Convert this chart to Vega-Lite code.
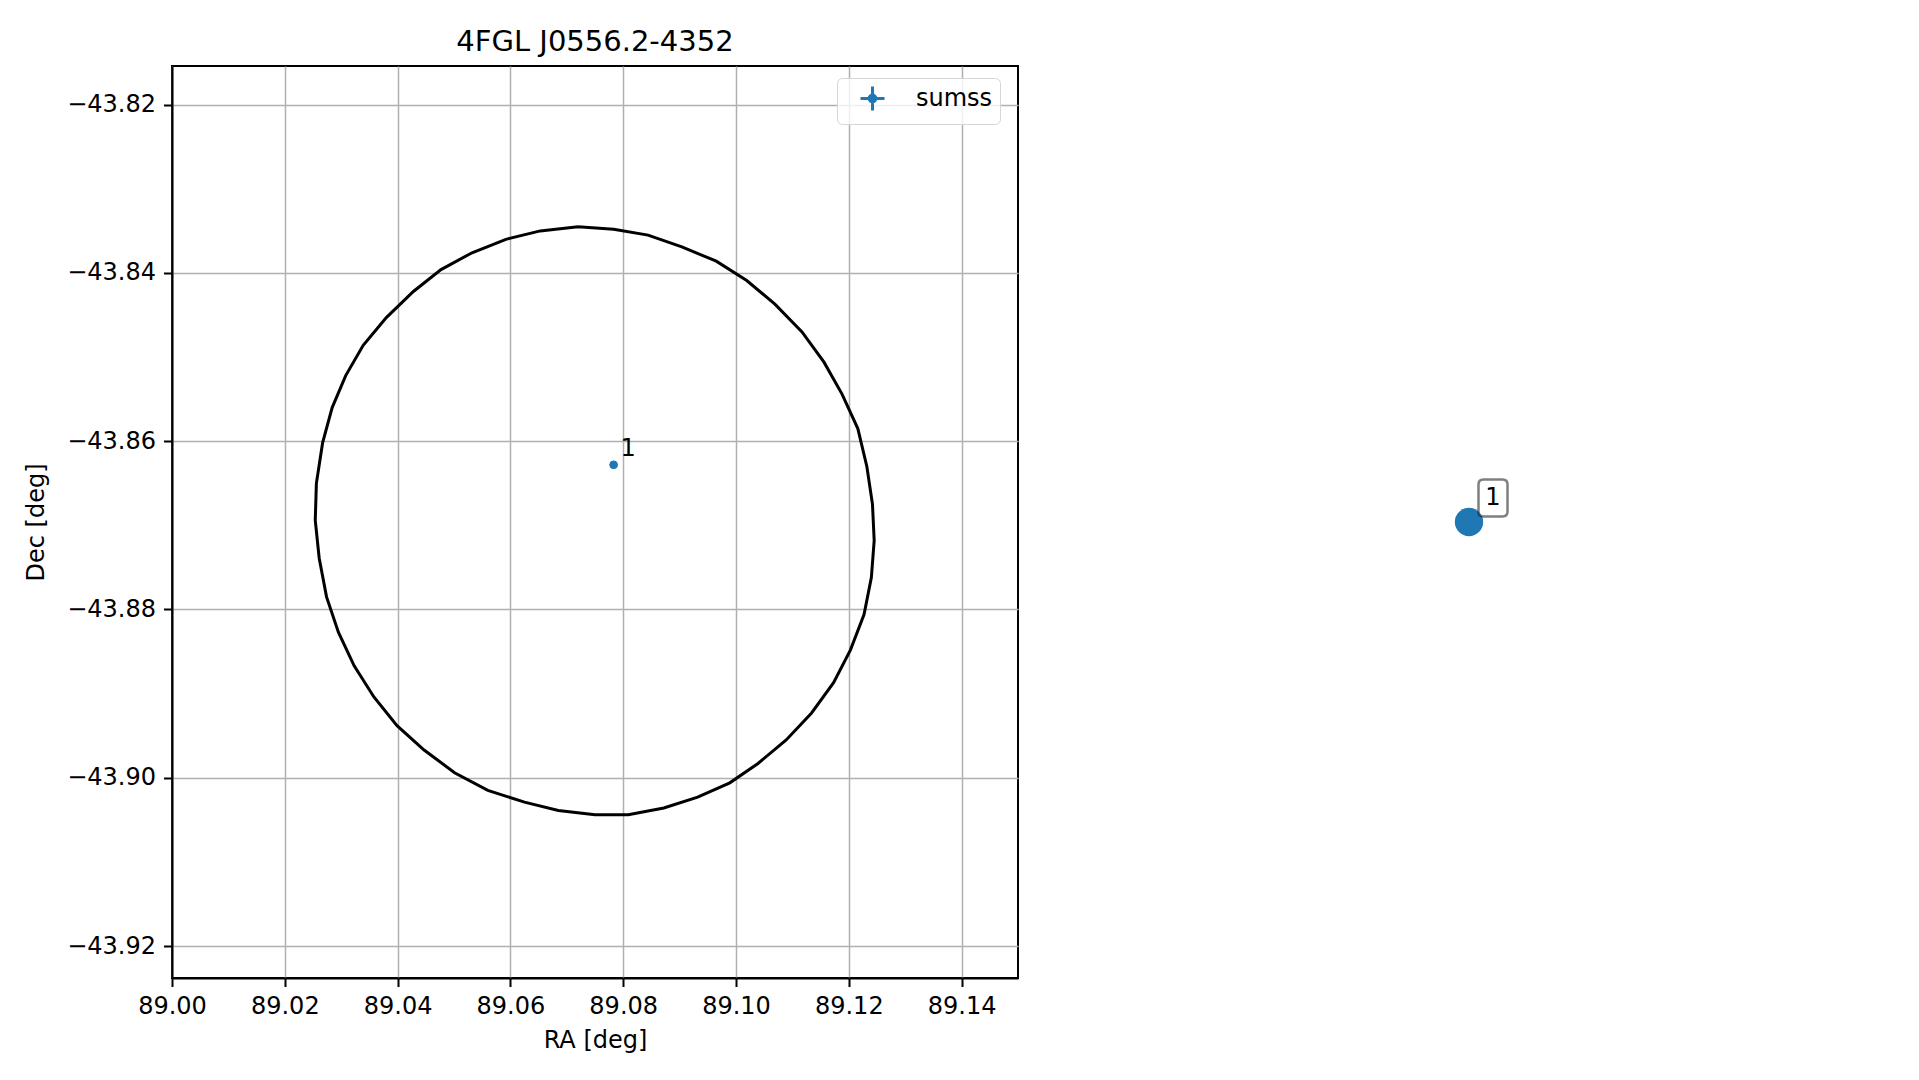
{
  "$schema": "https://vega.github.io/schema/vega-lite/v6.json",
  "background": "white",
  "padding": {"left": 23, "top": 27, "right": 0, "bottom": 0},
  "spacing": 81,
  "datasets": {
    "circle": [
      {"i": 0, "ra": 89.0720, "dec": -43.8345},
      {"i": 1, "ra": 89.0783, "dec": -43.8348},
      {"i": 2, "ra": 89.0844, "dec": -43.8355},
      {"i": 3, "ra": 89.0904, "dec": -43.8369},
      {"i": 4, "ra": 89.0965, "dec": -43.8386},
      {"i": 5, "ra": 89.1019, "dec": -43.8409},
      {"i": 6, "ra": 89.1069, "dec": -43.8437},
      {"i": 7, "ra": 89.1117, "dec": -43.8470},
      {"i": 8, "ra": 89.1156, "dec": -43.8506},
      {"i": 9, "ra": 89.1188, "dec": -43.8544},
      {"i": 10, "ra": 89.1216, "dec": -43.8585},
      {"i": 11, "ra": 89.1232, "dec": -43.8630},
      {"i": 12, "ra": 89.1242, "dec": -43.8675},
      {"i": 13, "ra": 89.1245, "dec": -43.8718},
      {"i": 14, "ra": 89.1240, "dec": -43.8762},
      {"i": 15, "ra": 89.1227, "dec": -43.8806},
      {"i": 16, "ra": 89.1203, "dec": -43.8848},
      {"i": 17, "ra": 89.1173, "dec": -43.8887},
      {"i": 18, "ra": 89.1134, "dec": -43.8923},
      {"i": 19, "ra": 89.1089, "dec": -43.8955},
      {"i": 20, "ra": 89.1039, "dec": -43.8983},
      {"i": 21, "ra": 89.0989, "dec": -43.9006},
      {"i": 22, "ra": 89.0932, "dec": -43.9023},
      {"i": 23, "ra": 89.0872, "dec": -43.9036},
      {"i": 24, "ra": 89.0809, "dec": -43.9044},
      {"i": 25, "ra": 89.0750, "dec": -43.9044},
      {"i": 26, "ra": 89.0685, "dec": -43.9039},
      {"i": 27, "ra": 89.0625, "dec": -43.9029},
      {"i": 28, "ra": 89.0560, "dec": -43.9015},
      {"i": 29, "ra": 89.0501, "dec": -43.8994},
      {"i": 30, "ra": 89.0447, "dec": -43.8967},
      {"i": 31, "ra": 89.0399, "dec": -43.8938},
      {"i": 32, "ra": 89.0358, "dec": -43.8904},
      {"i": 33, "ra": 89.0323, "dec": -43.8867},
      {"i": 34, "ra": 89.0295, "dec": -43.8827},
      {"i": 35, "ra": 89.0274, "dec": -43.8785},
      {"i": 36, "ra": 89.0261, "dec": -43.8739},
      {"i": 37, "ra": 89.0254, "dec": -43.8694},
      {"i": 38, "ra": 89.0256, "dec": -43.8650},
      {"i": 39, "ra": 89.0267, "dec": -43.8602},
      {"i": 40, "ra": 89.0284, "dec": -43.8560},
      {"i": 41, "ra": 89.0308, "dec": -43.8522},
      {"i": 42, "ra": 89.0339, "dec": -43.8486},
      {"i": 43, "ra": 89.0380, "dec": -43.8453},
      {"i": 44, "ra": 89.0428, "dec": -43.8422},
      {"i": 45, "ra": 89.0477, "dec": -43.8396},
      {"i": 46, "ra": 89.0532, "dec": -43.8376},
      {"i": 47, "ra": 89.0592, "dec": -43.8360},
      {"i": 48, "ra": 89.0653, "dec": -43.8350},
      {"i": 49, "ra": 89.0720, "dec": -43.8345}
    ],
    "src": [
      {"ra": 89.0783, "dec": -43.8628, "label": "1", "catalog": "sumss"}
    ]
  },
  "hconcat": [
    {
      "width": 846,
      "height": 912,
      "view": {"stroke": "black", "strokeWidth": 2},
      "title": {"text": "4FGL J0556.2-4352", "fontSize": 29, "fontWeight": "normal", "font": "DejaVu Sans", "color": "black", "offset": -14, "baseline": "alphabetic", "anchor": "middle"},
      "layer": [
        {
          "data": {"name": "circle"},
          "mark": {"type": "line", "color": "black", "strokeWidth": 3, "clip": true},
          "encoding": {
            "x": {"field": "ra", "type": "quantitative", "title": "RA [deg]",
                  "scale": {"domain": [89.0, 89.15], "zero": false, "nice": false},
                  "axis": {"values": [89.0, 89.02, 89.04, 89.06, 89.08, 89.1, 89.12, 89.14], "format": ".2f", "titlePadding": 10}},
            "y": {"field": "dec", "type": "quantitative", "title": "Dec [deg]",
                  "scale": {"domain": [-43.9238, -43.8154], "zero": false, "nice": false},
                  "axis": {"values": [-43.92, -43.9, -43.88, -43.86, -43.84, -43.82], "format": ".2f", "titlePadding": 18}},
            "order": {"field": "i", "type": "quantitative"}
          }
        },
        {
          "data": {"name": "src"},
          "mark": {"type": "point", "filled": false, "fill": "#1f77b4", "fillOpacity": 1, "strokeWidth": 1, "strokeOpacity": 1, "size": 60, "opacity": 1},
          "encoding": {
            "x": {"field": "ra", "type": "quantitative"},
            "y": {"field": "dec", "type": "quantitative"},
            "color": {"field": "catalog", "type": "nominal", "scale": {"range": ["#1f77b4"]},
              "legend": {
                "title": null, "orient": "none", "legendX": 665, "legendY": 12,
                "labelFontSize": 24, "labelFont": "DejaVu Sans", "labelColor": "black",
                "symbolType": "M-1,0H1M0,-1V1M0.28,0A0.28,0.28,0,1,1,-0.28,0A0.28,0.28,0,1,1,0.28,0Z",
                "symbolSize": 576, "symbolOffset": 15, "labelOffset": 30,
                "symbolStrokeColor": "#1f77b4", "symbolStrokeWidth": 3, "symbolFillColor": "#1f77b4", "symbolOpacity": 1,
                "padding": 7, "strokeColor": "#d6d6d6", "cornerRadius": 5, "fillColor": "rgba(255,255,255,0.8)",
                "encode": {"symbols": {
                  "update": {"stroke": {"value": "#1f77b4"}, "strokeWidth": {"value": 3}, "strokeOpacity": {"value": 1}},
                  "stroke": {"value": "#1f77b4"}, "strokeWidth": {"value": 3}, "strokeOpacity": {"value": 1},
                  "fill": {"value": "#1f77b4"}, "opacity": {"value": 1}}}
              }
            }
          }
        },
        {
          "data": {"name": "src"},
          "mark": {"type": "text", "dx": 7, "dy": -9, "align": "left", "baseline": "alphabetic", "fontSize": 24, "font": "DejaVu Sans", "color": "black"},
          "encoding": {
            "x": {"field": "ra", "type": "quantitative"},
            "y": {"field": "dec", "type": "quantitative"},
            "text": {"field": "label"}
          }
        }
      ]
    },
    {
      "width": 738,
      "height": 912,
      "view": {"stroke": null},
      "data": {"name": "src"},
      "encoding": {
        "x": {"field": "ra", "type": "quantitative", "scale": {"domain": [89.0283, 89.1283], "zero": false, "nice": false}, "axis": null},
        "y": {"field": "dec", "type": "quantitative", "scale": {"domain": [-43.9128, -43.8128], "zero": false, "nice": false}, "axis": null}
      },
      "layer": [
        {"mark": {"type": "point", "filled": true, "size": 804, "opacity": 1, "color": "#1f77b4"}},
        {"mark": {"type": "point", "filled": true, "size": 1369, "xOffset": 24, "yOffset": -24,
                  "shape": "M-0.514,-1H0.514Q0.784,-1,0.784,-0.73V0.73Q0.784,1,0.514,1H-0.514Q-0.784,1,-0.784,0.73V-0.73Q-0.784,-1,-0.514,-1Z",
                  "fill": "white", "fillOpacity": 0.5, "stroke": "black", "strokeOpacity": 0.5, "strokeWidth": 2.5, "opacity": 1}},
        {"mark": {"type": "text", "dx": 24, "dy": -24, "align": "center", "baseline": "middle", "fontSize": 24, "font": "DejaVu Sans", "color": "black"},
         "encoding": {"text": {"field": "label"}}}
      ]
    }
  ],
  "config": {
    "font": "DejaVu Sans",
    "axis": {
      "labelFont": "DejaVu Sans", "labelFontSize": 24, "labelColor": "black",
      "titleFont": "DejaVu Sans", "titleFontSize": 24, "titleFontWeight": "normal", "titleColor": "black",
      "tickColor": "black", "tickSize": 8.5, "tickWidth": 2,
      "domainColor": "black", "domainWidth": 2,
      "grid": true, "gridColor": "#b0b0b0", "gridWidth": 1.5,
      "labelPadding": 8, "labelFlush": false, "labelOverlap": false, "labelBound": false
    }
  }
}
